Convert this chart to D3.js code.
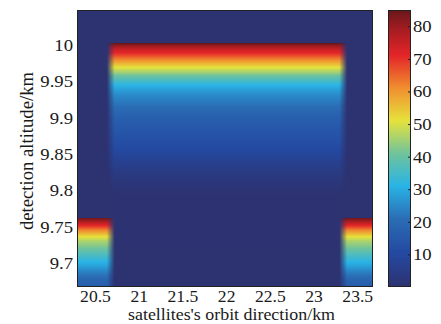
<!DOCTYPE html>
<html>
<head>
<meta charset="utf-8">
<script src="https://cdn.jsdelivr.net/npm/d3@7"></script>
<style>
  html, body { margin: 0; padding: 0; background: #fff; }
  svg { display: block; font-family: "Liberation Serif", "Times New Roman", serif; }
</style>
</head>
<body>
<svg id="chart" width="441" height="324"></svg>
<script>
// Along-track column positions (km) and the beam each column belongs to
const orbitX = [20.2, 20.635, 20.725, 23.295, 23.385, 23.8];
const columnBeam = ["lower", "lower", "upper", "upper", "lower", "lower"];

// Upper beam: altitude samples (km) and detected intensity
const upperAltitudes = [9.6, 9.795, 9.81, 9.825, 9.84, 9.86, 9.88, 9.9, 9.915, 9.93, 9.938, 9.944,
  9.95, 9.957, 9.962, 9.968, 9.973, 9.978, 9.983, 9.988, 9.993, 9.998, 10.002, 10.0022, 10.1];
const upperValues = [0, 0.5, 2, 4, 7, 11, 14, 17, 21, 25, 28, 31,
  35, 40, 45, 50, 55, 60, 65, 70, 74, 79, 85, 0, 0];

// Lower beam: altitude samples (km) and detected intensity
const lowerAltitudes = [9.6, 9.66, 9.675, 9.688, 9.697, 9.705, 9.713, 9.722, 9.73, 9.736,
  9.741, 9.746, 9.751, 9.756, 9.7615, 9.7617, 10.1];
const lowerValues = [14, 14, 18, 24, 29, 33, 37, 42, 46, 51,
  57, 63, 70, 77, 84, 0, 0];

// Axis ticks
const xTicks = [20.5, 21, 21.5, 22, 22.5, 23, 23.5];
const yTicks = [9.7, 9.75, 9.8, 9.85, 9.9, 9.95, 10];
const cTicks = [10, 20, 30, 40, 50, 60, 70, 80];

// Colour map (jet-like, print tones)
const jetStops = [0, 10.5, 21, 31, 41, 51, 61, 71, 79, 85];
const jetColours = ["#2d3270", "#2449a1", "#2a6db5", "#29b3e6", "#70c39b",
  "#e6e23c", "#f08f2f", "#e42528", "#a51c21", "#68171b"];

const plot = { left: 77, top: 10, right: 373, bottom: 287 };
const bar = { left: 388, right: 411 };

const svg = d3.select("#chart");

const x = d3.scaleLinear().domain([20.294, 23.68]).range([plot.left, plot.right]);
const y = d3.scaleLinear().domain([9.667, 10.048]).range([plot.bottom, plot.top]);
const colour = d3.scaleLinear().domain(jetStops).range(jetColours)
  .interpolate(d3.interpolateRgb).clamp(true);

const beamProfile = {
  upper: d3.scaleLinear().domain(upperAltitudes).range(upperValues).clamp(true),
  lower: d3.scaleLinear().domain(lowerAltitudes).range(lowerValues).clamp(true)
};

// Colour at a point: neighbouring columns are shaded and blended across the beam edge
function shade(xv, alt) {
  let i = d3.bisectRight(orbitX, xv) - 1;
  i = Math.max(0, Math.min(orbitX.length - 2, i));
  const t = Math.max(0, Math.min(1, (xv - orbitX[i]) / (orbitX[i + 1] - orbitX[i])));
  const a = colour(beamProfile[columnBeam[i]](alt));
  const b = colour(beamProfile[columnBeam[i + 1]](alt));
  return d3.rgb(d3.interpolateRgb(a, b)(t));
}

// Heat map image
const pw = plot.right - plot.left, ph = plot.bottom - plot.top;
const cv = document.createElement("canvas");
cv.width = pw; cv.height = ph;
const ctx = cv.getContext("2d");
const img = ctx.createImageData(pw, ph);
for (let r = 0; r < ph; r++) {
  const alt = y.invert(plot.top + r + 0.5);
  for (let c = 0; c < pw; c++) {
    const col = shade(x.invert(plot.left + c + 0.5), alt);
    const k = (r * pw + c) * 4;
    img.data[k] = col.r; img.data[k + 1] = col.g; img.data[k + 2] = col.b; img.data[k + 3] = 255;
  }
}
ctx.putImageData(img, 0, 0);
svg.append("image")
  .attr("x", plot.left).attr("y", plot.top)
  .attr("width", pw).attr("height", ph)
  .attr("preserveAspectRatio", "none")
  .attr("href", cv.toDataURL());

// Colour bar
const cy = d3.scaleLinear().domain([0, 85]).range([plot.bottom, plot.top]);
const bw = bar.right - bar.left;
const cb = document.createElement("canvas");
cb.width = bw; cb.height = ph;
const cctx = cb.getContext("2d");
for (let r = 0; r < ph; r++) {
  cctx.fillStyle = colour(cy.invert(plot.top + r + 0.5));
  cctx.fillRect(0, r, bw, 1);
}
svg.append("image")
  .attr("x", bar.left).attr("y", plot.top)
  .attr("width", bw).attr("height", ph)
  .attr("preserveAspectRatio", "none")
  .attr("href", cb.toDataURL());

// Axes
const fmt = d => String(+d.toFixed(2));
const serif = '"Liberation Serif", "Times New Roman", serif';

const gx = svg.append("g")
  .attr("transform", `translate(0,${plot.bottom})`)
  .call(d3.axisBottom(x).tickValues(xTicks).tickFormat(fmt).tickSize(0).tickPadding(4));
const gy = svg.append("g")
  .attr("transform", `translate(${plot.left},0)`)
  .call(d3.axisLeft(y).tickValues(yTicks).tickFormat(fmt).tickSize(0).tickPadding(4));
const gc = svg.append("g")
  .attr("transform", `translate(${bar.right},0)`)
  .call(d3.axisRight(cy).tickValues(cTicks).tickFormat(fmt).tickSize(-3).tickPadding(2));

[gx, gy, gc].forEach(g => {
  g.attr("font-family", serif).attr("font-size", 17);
  g.select(".domain").remove();
  g.selectAll("line").attr("stroke", "#222");
});
gx.attr("font-size", 16);
[gx, gy, gc].forEach(g => {
  g.selectAll("text").attr("fill", "#1a1a1a").each(function () {
    // slightly wide lettering
    const len = this.getComputedTextLength();
    d3.select(this).attr("textLength", len * 1.1).attr("lengthAdjust", "spacingAndGlyphs");
  });
});

// Frames
svg.append("rect")
  .attr("x", plot.left + 0.5).attr("y", plot.top + 0.5)
  .attr("width", pw - 1).attr("height", ph - 1)
  .attr("fill", "none").attr("stroke", "#222").attr("stroke-width", 1);
svg.append("rect")
  .attr("x", bar.left + 0.5).attr("y", plot.top + 0.5)
  .attr("width", bw - 1).attr("height", ph - 1)
  .attr("fill", "none").attr("stroke", "#222").attr("stroke-width", 1);

// Axis titles
svg.append("text")
  .attr("x", 231.5).attr("y", 320.2)
  .attr("text-anchor", "middle").attr("font-size", 16.5).attr("fill", "#1a1a1a")
  .attr("font-family", serif)
  .attr("textLength", 207).attr("lengthAdjust", "spacingAndGlyphs")
  .text("satellites's orbit direction/km");
svg.append("text")
  .attr("transform", "translate(33,151) rotate(-90)")
  .attr("text-anchor", "middle").attr("font-size", 18).attr("fill", "#1a1a1a")
  .attr("font-family", serif)
  .attr("textLength", 158).attr("lengthAdjust", "spacingAndGlyphs")
  .text("detection altitude/km");
</script>
</body>
</html>
